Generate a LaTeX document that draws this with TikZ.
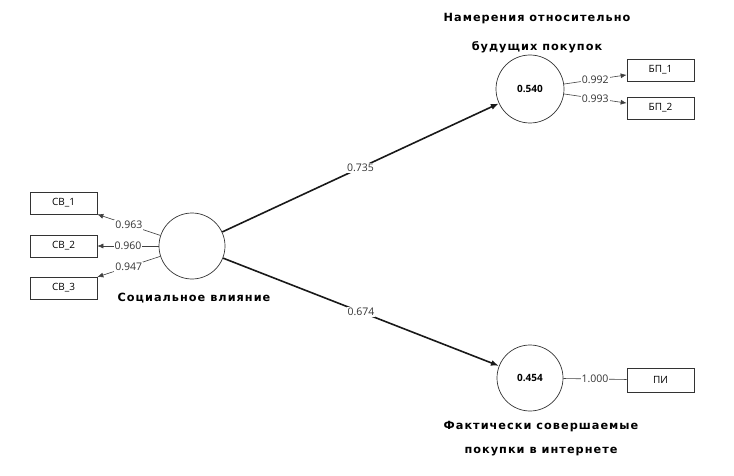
\documentclass[tikz,border=0pt]{standalone}
\usepackage{fontspec}
\setmainfont{Open Sans}
\newfontfamily\titlefont[LetterSpace=9]{DejaVu Sans}
\usetikzlibrary{arrows.meta}
\begin{document}
\begin{tikzpicture}[x=1pt,y=-1pt,
  latent/.style={draw=black!80,circle,line width=0.7pt,minimum size=#1,inner sep=0pt,font=\fontsize{10}{11}\selectfont\bfseries},
  indic/.style={draw=black!80,rectangle,line width=0.7pt,minimum width=67pt,minimum height=22pt,inner sep=0pt,font=\fontsize{10}{11}\selectfont},
  ttl/.style={font=\titlefont\fontsize{11.3}{12}\selectfont\bfseries,inner sep=0pt,text=black},
  thinarr/.style={draw=black!75,line width=0.6pt,-{Latex[length=6pt,width=5pt]}},
  thinline/.style={draw=black!75,line width=0.6pt},
  thickarr/.style={draw=black!90,line width=1.6pt,-{Latex[length=8pt,width=6pt]}},
  lbl/.style={fill=white,inner sep=1pt,font=\fontsize{10.5}{12}\selectfont,text=black!80},
]
\useasboundingbox (0,0) rectangle (734,476);
\node[latent=66pt] (sv) at (192,246) {};
\node[latent=68pt] (bp) at (530,89) {0.540};
\node[latent=66pt] (pi) at (530,378) {0.454};

\node[indic] (sv1) at (63.5,203) {СВ\_1};
\node[indic] (sv2) at (63.5,246) {СВ\_2};
\node[indic] (sv3) at (63.5,288) {СВ\_3};
\node[indic] (bp1) at (660.5,70) {БП\_1};
\node[indic] (bp2) at (660.5,108) {БП\_2};
\node[indic,minimum height=24pt] (pi1) at (660.5,380) {ПИ};

\node[ttl] (t1a) at (537,19) {Намерения относительно};
\node[ttl] (t1b) at (537,47) {будущих покупок};
\node[ttl] (t2) at (194,298) {Социальное влияние};
\node[ttl] (t3a) at (541,427) {Фактически совершаемые};
\node[ttl] (t3b) at (541,452) {покупки в интернете};

\draw[thinarr] (sv) -- node[lbl]{0.963} (sv1);
\draw[thinarr] (sv) -- node[lbl]{0.960} (sv2);
\draw[thinarr] (sv) -- node[lbl]{0.947} (sv3);
\draw[thinarr] (bp) -- node[lbl]{0.992} (bp1);
\draw[thinarr] (bp) -- node[lbl]{0.993} (bp2);
\draw[thinline] (pi) -- node[lbl]{1.000} (pi1);

\draw[thickarr] (sv) -- node[lbl]{0.735} (bp);
\draw[thickarr] (sv) -- node[lbl]{0.674} (pi);
\end{tikzpicture}
\end{document}
